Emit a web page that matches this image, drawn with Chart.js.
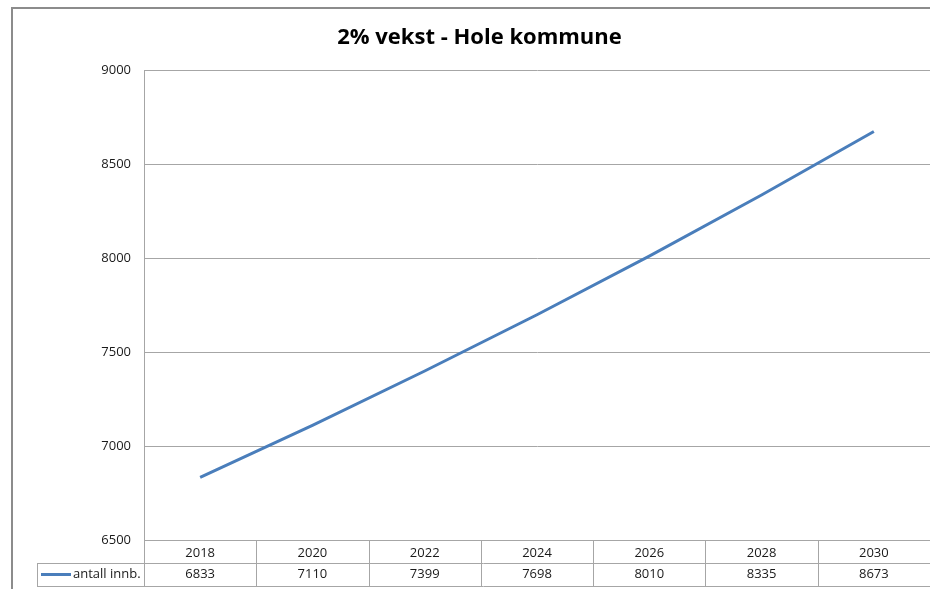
<!DOCTYPE html>
<html>
<head>
<meta charset="utf-8">
<script src="https://cdn.jsdelivr.net/npm/chart.js@4.4.1/dist/chart.umd.min.js"></script>
<style>
  html, body { margin: 0; padding: 0; background: #fff; overflow: hidden; }
  #wrap { width: 930px; height: 589px; }
</style>
</head>
<body>
<div id="wrap"><canvas id="chart" width="930" height="589"></canvas></div>
<script>
const years = ["2018", "2020", "2022", "2024", "2026", "2028", "2030"];
const innbyggere = [6833, 7110, 7399, 7698, 8010, 8335, 8673];
const seriesName = "antall innb.";
const yTicks = [6500, 7000, 7500, 8000, 8500, 9000];

const lineColor = "#4a7ebb";
const gridColor = "#a6a6a6";
const rowH = 23;

Chart.defaults.font.family = "'Open Sans', 'Liberation Sans', sans-serif";
Chart.defaults.font.size = 13;
Chart.defaults.color = "#1a1a1a";

// ramme rundt diagrammet + datatabell under x-aksen
const tablePlugin = {
  id: "dataTable",
  beforeDraw(chart) {
    const ctx = chart.ctx;
    ctx.save();
    ctx.strokeStyle = "#8c8c8c";
    ctx.lineWidth = 2;
    ctx.beginPath();
    ctx.moveTo(12, chart.height);
    ctx.lineTo(12, 8);
    ctx.lineTo(chart.width, 8);
    ctx.stroke();
    ctx.restore();
  },
  afterDraw(chart) {
    const ctx = chart.ctx;
    const x = chart.scales.x;
    const area = chart.chartArea;
    const top = area.bottom;
    const half = (x.getPixelForValue(1) - x.getPixelForValue(0)) / 2;
    const legendLeft = 37;
    ctx.save();
    ctx.strokeStyle = gridColor;
    ctx.lineWidth = 1;
    ctx.beginPath();
    // horisontale linjer
    ctx.moveTo(area.left, top + 0.5);
    ctx.lineTo(area.right, top + 0.5);
    ctx.moveTo(legendLeft, top + rowH + 0.5);
    ctx.lineTo(area.right, top + rowH + 0.5);
    ctx.moveTo(legendLeft, top + 2 * rowH + 0.5);
    ctx.lineTo(area.right, top + 2 * rowH + 0.5);
    // vertikale linjer
    ctx.moveTo(legendLeft + 0.5, top + rowH);
    ctx.lineTo(legendLeft + 0.5, top + 2 * rowH);
    for (let i = 0; i < years.length; i++) {
      const px = Math.round(x.getPixelForValue(i) - half) + 0.5;
      ctx.moveTo(px, top);
      ctx.lineTo(px, top + 2 * rowH);
    }
    ctx.stroke();

    // verdier
    ctx.fillStyle = "#1a1a1a";
    ctx.font = "13px 'Open Sans', 'Liberation Sans', sans-serif";
    ctx.textAlign = "center";
    ctx.textBaseline = "middle";
    const rowY = top + rowH + rowH / 2;
    innbyggere.forEach((v, i) => {
      ctx.fillText(String(v), x.getPixelForValue(i), rowY);
    });

    // forklaring
    ctx.strokeStyle = lineColor;
    ctx.lineWidth = 3;
    ctx.beginPath();
    ctx.moveTo(41, rowY);
    ctx.lineTo(71, rowY);
    ctx.stroke();
    ctx.textAlign = "left";
    ctx.fillText(seriesName, 73, rowY);
    ctx.restore();
  },
};

new Chart(document.getElementById("chart"), {
  type: "line",
  data: {
    labels: years,
    datasets: [
      {
        label: seriesName,
        data: innbyggere,
        borderColor: lineColor,
        backgroundColor: lineColor,
        borderWidth: 3,
        pointRadius: 0,
        tension: 0,
        fill: false,
      },
    ],
  },
  options: {
    responsive: false,
    animation: false,
    layout: { padding: { left: 29, right: 0, top: 0, bottom: 0 } },
    plugins: {
      legend: { display: false },
      tooltip: { enabled: false },
      title: {
        display: true,
        text: "2% vekst - Hole kommune",
        color: "#000",
        font: { size: 22, weight: "bold" },
        padding: { top: 25, bottom: 18.6 },
      },
    },
    scales: {
      x: {
        type: "category",
        offset: true,
        grid: { display: false, drawTicks: false },
        border: { display: false },
        ticks: { padding: 5, maxRotation: 0, autoSkip: false },
        afterFit(scale) {
          scale.height = 49;
        },
      },
      y: {
        min: 6500,
        max: 9000,
        afterBuildTicks(scale) {
          scale.ticks = yTicks.map((v) => ({ value: v }));
        },
        grid: { color: gridColor, drawTicks: false },
        border: { display: true, color: gridColor },
        ticks: { padding: 13, callback: (v) => String(v) },
        afterFit(scale) {
          scale.width = 115;
        },
      },
    },
  },
  plugins: [tablePlugin],
});
</script>
</body>
</html>
